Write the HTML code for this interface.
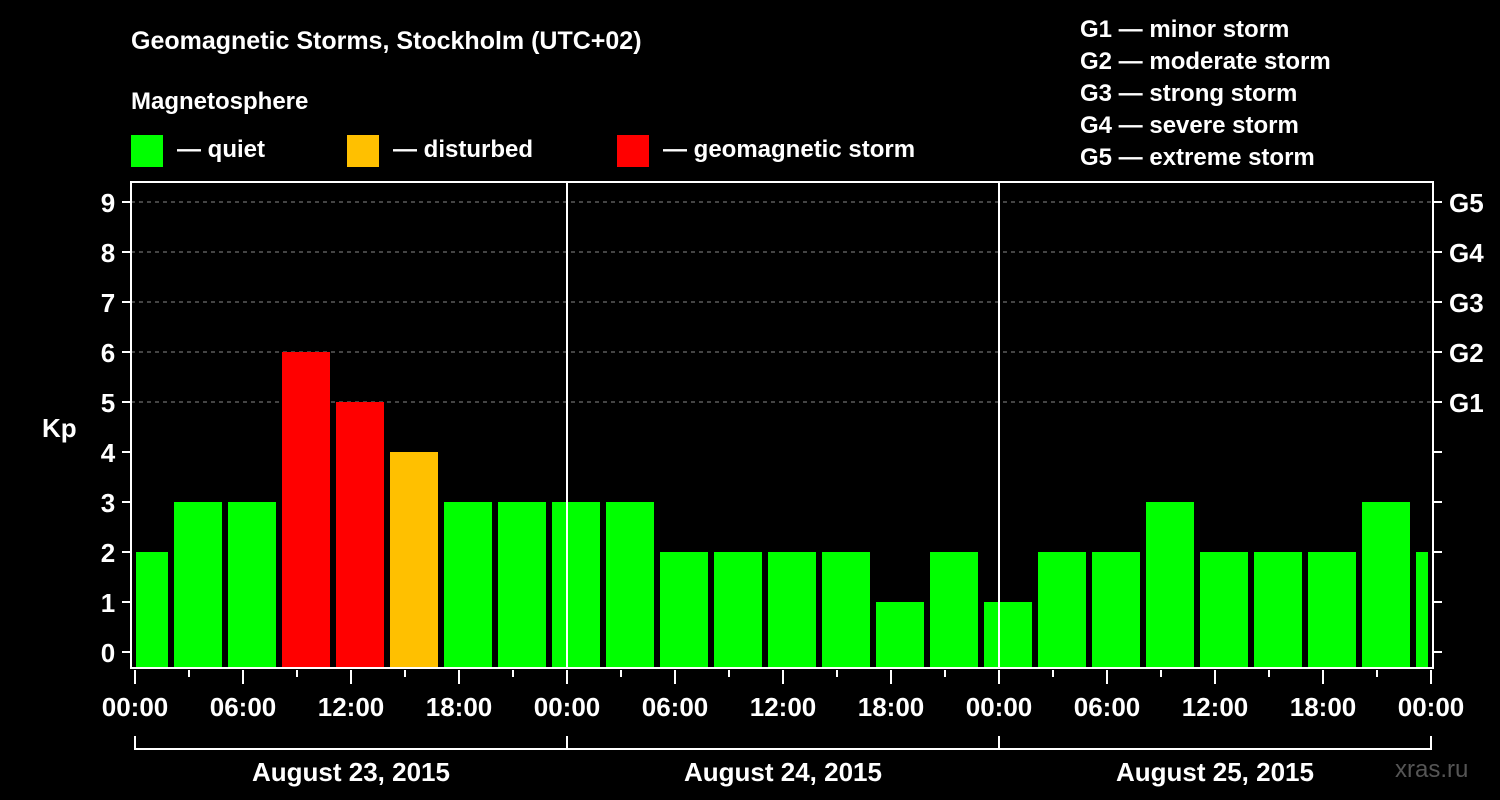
<!DOCTYPE html>
<html><head><meta charset="utf-8"><style>
html,body{margin:0;padding:0;background:#000;}
svg{display:block;font-family:"Liberation Sans",Arial,sans-serif;font-weight:bold;}
</style></head><body>
<svg id="chart" width="1500" height="800" viewBox="0 0 1500 800">
<text x="131" y="49" fill="#fff" font-size="25">Geomagnetic Storms, Stockholm (UTC+02)</text>
<text x="131" y="109" fill="#fff" font-size="24">Magnetosphere</text>
<g><rect x="131" y="135" width="32" height="32" fill="#00ff00"/><text x="177" y="157" fill="#fff" font-size="24">— quiet</text></g>
<g><rect x="347" y="135" width="32" height="32" fill="#ffc000"/><text x="393" y="157" fill="#fff" font-size="24">— disturbed</text></g>
<g><rect x="617" y="135" width="32" height="32" fill="#ff0000"/><text x="663" y="157" fill="#fff" font-size="24">— geomagnetic storm</text></g>
<g fill="#fff" font-size="24">
<text x="1080" y="37">G1 — minor storm</text>
<text x="1080" y="69">G2 — moderate storm</text>
<text x="1080" y="101">G3 — strong storm</text>
<text x="1080" y="133">G4 — severe storm</text>
<text x="1080" y="165">G5 — extreme storm</text>
</g>
<text x="42" y="437" fill="#fff" font-size="26">Kp</text>
<text x="1395" y="777" fill="#555" font-size="24" font-weight="normal">xras.ru</text>
<g id="grid"></g><g id="bars"></g><g id="axes"></g>
</svg>
<script>
const kpValues=[2,3,3,6,5,4,3,3,3,3,2,2,2,2,1,2,1,2,2,3,2,2,2,3,2];
const yTicks=[0,1,2,3,4,5,6,7,8,9];
const gLabels=["G1","G2","G3","G4","G5"];
const gLevels=[5,6,7,8,9];
const hourLabels=["00:00","06:00","12:00","18:00"];
const dayLabels=["August 23, 2015","August 24, 2015","August 25, 2015"];
const NS="http://www.w3.org/2000/svg";
const X0=135,PXH=18,Y0=652,PXK=50,LEFT=131,RIGHT=1433,TOP=182,BOTTOM=668;
const xs=h=>X0+h*PXH, ys=k=>Y0-k*PXK;
function mk(tag,attrs,parent){const e=document.createElementNS(NS,tag);for(const k in attrs)e.setAttribute(k,attrs[k]);parent.appendChild(e);return e;}
const grid=document.getElementById('grid'),bars=document.getElementById('bars'),axes=document.getElementById('axes');
gLevels.forEach((lv,i)=>{
 const l=mk('line',{x1:LEFT,x2:RIGHT,y1:ys(lv),y2:ys(lv),stroke:'#888','stroke-dasharray':'4,4','stroke-width':1},grid);
 
 
 const t=mk('text',{x:1449,y:ys(lv)+10,fill:'#fff','font-size':26},axes);t.textContent=gLabels[i];
 
 
});
kpValues.forEach((v,i)=>{
 let h0=-1+3*i,h1=h0+3;
 let x0=xs(h0)+3,x1=xs(h1)-3;
 x0=Math.max(x0,LEFT+5);x1=Math.min(x1,RIGHT-5);
 const c=v>=5?'#ff0000':(v>=4?'#ffc000':'#00ff00');
 const r=mk('rect',{x:x0,y:ys(v),width:x1-x0,height:BOTTOM-ys(v),fill:c},bars);
 
 
});
// frame
const f=mk('path',{d:`M${LEFT} ${TOP}H${RIGHT}V${BOTTOM}H${LEFT}Z`,fill:'none',stroke:'#fff','stroke-width':2},axes);


for(let d=1;d<dayLabels.length;d++){
 const l=mk('line',{x1:xs(24*d),x2:xs(24*d),y1:TOP,y2:BOTTOM,stroke:'#fff','stroke-width':2},axes);
 
 
}
yTicks.forEach(k=>{
 mk('line',{x1:LEFT-9,x2:LEFT,y1:ys(k),y2:ys(k),stroke:'#fff','stroke-width':2},axes);
 mk('line',{x1:RIGHT,x2:RIGHT+9,y1:ys(k),y2:ys(k),stroke:'#fff','stroke-width':2},axes);
 const t=mk('text',{x:108,y:ys(k)+10,fill:'#fff','font-size':26,'text-anchor':'middle'},axes);t.textContent=k;
 
 
});
const nDays=dayLabels.length;
for(let h=0;h<=24*nDays;h+=3){
 const major=h%6===0;
 mk('line',{x1:xs(h),x2:xs(h),y1:BOTTOM+2,y2:BOTTOM+(major?16:9),stroke:'#fff','stroke-width':2},axes);
 if(major){
  const t=mk('text',{x:xs(h),y:716,fill:'#fff','font-size':26,'text-anchor':'middle'},axes);
  t.textContent=hourLabels[(h/6)%4];
  
  
 }
}
mk('path',{d:`M${xs(0)} 736V749H${xs(24*nDays)}V736`,fill:'none',stroke:'#fff','stroke-width':2},axes);
dayLabels.forEach((d,i)=>{
 mk('line',{x1:xs(24*i),x2:xs(24*i),y1:736,y2:749,stroke:'#fff','stroke-width':2},axes);
 const t=mk('text',{x:xs(24*i+12),y:781,fill:'#fff','font-size':26,'text-anchor':'middle'},axes);
 t.textContent=d;
 
 
});
</script>
</body></html>
